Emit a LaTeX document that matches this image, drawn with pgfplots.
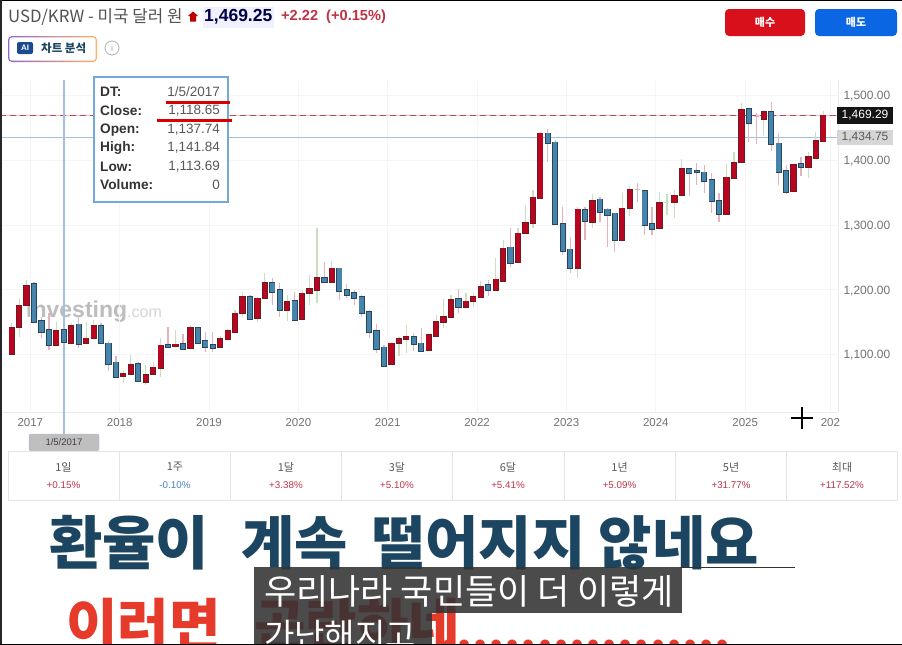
\documentclass[border=0pt]{standalone}
\usepackage{fontspec}
\usepackage{pgfplots}
\usepackage{pgfplotstable}
\pgfplotsset{compat=1.18}
\setmainfont{Liberation Sans}
\newfontfamily\kr{Noto Sans CJK KR}
\newcommand{\fs}[1]{\fontsize{#1}{#1}\selectfont}
\definecolor{upred}{HTML}{B9051F}
\definecolor{upedge}{HTML}{6E1A22}
\definecolor{dnblue}{HTML}{4684AE}
\definecolor{dnedge}{HTML}{26465C}
\definecolor{wickup}{HTML}{C9DFC0}
\definecolor{wickdn}{HTML}{E3B4BC}
\definecolor{navy}{HTML}{1B4560}
\definecolor{redhead}{HTML}{E63A2B}
\definecolor{pctred}{HTML}{C03345}
\definecolor{pctblue}{HTML}{4A80C8}
\definecolor{hair}{HTML}{A3C0E4}
\definecolor{tipedge}{HTML}{74A8D8}
\definecolor{dashbase}{HTML}{F4BCC4}
\definecolor{dashtop}{HTML}{B84A5C}
\definecolor{buyred}{HTML}{D8101C}
\definecolor{sellblue}{HTML}{0B66E4}
\definecolor{aiblue}{HTML}{1A4A90}
\pgfplotstableread{
x l bl bh h
0 1100 1100.8 1141.5 1148
1 1127.6 1142 1176 1186.8
2 1175 1176.5 1206.3 1215
6 1114 1114.7 1136.8 1150.7
8 1118 1118.3 1144.5 1148
10 1117 1118.3 1125 1150.7
11 1122.4 1125 1144.5 1153.3
15 1055.5 1066.8 1069.9 1076
16 1068 1069.9 1084.3 1099.3
18 1053 1058 1068.9 1083.8
19 1068 1069.4 1080 1089
20 1066 1079.2 1114.2 1125
22 1112 1113 1115.7 1138
24 1108.5 1109.5 1141.5 1145.6
28 1111 1112 1124 1128.6
29 1123.4 1124.5 1136.8 1140
30 1133.7 1135.3 1163.6 1168.7
31 1157.4 1163.6 1189.3 1197
33 1150.7 1155.9 1186.8 1189.3
34 1186.8 1186.8 1211 1225.4
37 1152 1168.7 1181 1192
39 1153 1154.3 1194.5 1199.6
40 1176.5 1194.5 1201 1222.8
41 1180 1199.6 1218.7 1295
43 1211.5 1212.5 1233.1 1245
51 1083.8 1084.8 1117.3 1119.8
52 1097.7 1117.3 1124 1127.6
53 1101.8 1124.5 1127.6 1145.6
56 1107 1107 1130 1131.7
57 1127.6 1129 1150.7 1161
58 1140.4 1150.7 1158.5 1185.2
59 1155.9 1157.4 1184.2 1191.9
61 1172.9 1172.9 1182.1 1194.5
62 1172.9 1182.6 1189.3 1194.5
63 1186.8 1188.3 1204.8 1214
65 1198.6 1199.6 1216 1248.5
66 1213.5 1214 1264 1276.9
68 1240.8 1242.3 1287.1 1294.9
69 1286 1287.1 1303.6 1330.9
70 1295 1302.6 1342.7 1354
71 1341 1342.2 1441.6 1444
76 1217.6 1233 1324.2 1328.3
78 1294.9 1305.2 1337.6 1347.9
82 1275.8 1276.8 1325.7 1348.9
83 1313.9 1326.3 1354 1360.8
87 1293.8 1294.9 1334.5 1351.5
89 1310.3 1335 1345.3 1354
90 1345.3 1346.3 1386.5 1401.9
96 1315.4 1317 1373.6 1393.7
97 1372 1373 1396.2 1413.2
98 1395.7 1396.8 1477.6 1487.9
101 1439 1463.2 1475 1477.6
105 1351.5 1352.5 1392.6 1393.7
107 1373 1389 1405.5 1413.2
108 1403 1404 1429.7 1444.1
109 1428.7 1429.7 1469.25 1476
}\upT
\pgfplotstableread{
x l bl bh h
3 1148 1149.7 1209 1212.5
4 1125 1135.3 1152.3 1158.5
5 1107 1114.7 1137.9 1163.6
7 1113.69 1118.65 1137.74 1141.84
9 1109.5 1116.2 1146.6 1157.4
12 1116 1117.3 1144.5 1148
13 1075 1085.3 1117.3 1119.8
14 1063 1064.8 1087.9 1097.7
17 1057.5 1058.6 1085.3 1089
21 1111 1111 1114.7 1142
23 1108 1108 1116.7 1131.7
25 1116 1117.3 1141.5 1143
26 1104 1112 1121.4 1135
27 1104 1110 1114.7 1135
32 1153 1154.3 1189.3 1192
35 1176.5 1197 1211 1217.6
36 1157.4 1168.7 1199.6 1210
38 1152 1153.3 1182.6 1197
42 1210 1212.5 1218.7 1243.4
44 1184.2 1198.6 1233.1 1233.1
45 1186.8 1191.9 1199.6 1209
46 1176.5 1186.8 1195.5 1199.6
47 1157.4 1163.6 1189.3 1191.9
48 1125 1135.3 1166.2 1168.7
49 1101.8 1108.5 1136.8 1147
50 1082.3 1082.8 1111 1114.7
54 1106 1116.2 1127.6 1132.7
55 1106 1106 1117.3 1140.4
60 1164.6 1172.9 1185.7 1200.7
64 1190.4 1199.6 1207.4 1215
67 1235.7 1240.8 1265.5 1294.9
72 1397.8 1426.1 1441.6 1448.3
73 1300 1301 1427.7 1431.3
74 1253.7 1259.3 1301.6 1327.3
75 1225.4 1233 1262.4 1282
77 1276.8 1306.2 1323.2 1328.3
79 1305.2 1320.1 1339.6 1342.7
80 1266.5 1315 1324.2 1325.7
81 1258.8 1276.8 1318 1319
85 1284.6 1300 1353 1354
86 1284.6 1294.3 1301.6 1328.3
91 1345.3 1380.8 1386.5 1388.5
92 1361.8 1381.3 1383.9 1395.2
93 1348.9 1368.4 1381.3 1392.6
94 1318 1337.6 1369.5 1379.8
95 1305 1317 1337.6 1348.9
99 1428.7 1458 1479.1 1480.2
102 1414.3 1424.6 1475 1489.4
103 1361.8 1382.3 1426.1 1441.6
104 1347.3 1351.5 1383.4 1392.6
106 1376.2 1389 1394.2 1405.5
}\dnT
\pgfplotstableread{
x l bl h
84 1336 1355 1364.4
100 1424.6 1468 1472.4
}\dojiDn
\pgfplotstableread{
x l bl h
88 1316 1335 1348
}\dojiUp
\newcommand{\wicks}[2]{\addplot[draw=none,mark=none,forget plot,
  error bars/.cd,y dir=both,y explicit,error mark=none,
  error bar style={line width=1.2pt,color=#2}]
  table[x=x,y=bl,y error plus expr={\thisrow{h}-\thisrow{bl}},y error minus expr={\thisrow{bl}-\thisrow{l}}]{#1};}
\newcommand{\bodies}[3]{\addplot[draw=none,mark=none,forget plot,
  error bars/.cd,y dir=both,y explicit,error mark=none,
  error bar style={line width=6.2pt,color=#2}]
  table[x=x,y=bl,y error plus expr={\thisrow{bh}-\thisrow{bl}+1.2},y error minus expr={1.2}]{#1};
  \addplot[draw=none,mark=none,forget plot,
  error bars/.cd,y dir=both,y explicit,error mark=none,
  error bar style={line width=4.4pt,color=#3}]
  table[x=x,y=bl,y error plus expr={\thisrow{bh}-\thisrow{bl}},y error minus expr={0}]{#1};}
\begin{document}
\begin{tikzpicture}
\path[use as bounding box,clip] (0pt,0pt) rectangle (902pt,-645pt);
\fill[white] (0pt,0pt) rectangle (902pt,-645pt);
\begin{scope}[x=1pt,y=-1pt]
\node[anchor=west,inner sep=0pt,text=black!26] at (26,312) {\fs{23}\bfseries Investing\textcolor{black!16}{\fs{16}\mdseries .com}};
\end{scope}
\begin{axis}[
  at={(0pt,-412pt)},anchor=south west,scale only axis,
  width=838pt,height=332pt,
  xmin=-1.571,xmax=110.97,ymin=1011.2,ymax=1523.9,
  axis x line*=bottom,axis y line*=right,
  axis line style={color=black!8,line width=1pt},
  major tick length=0pt,
  grid=major,major grid style={color=black!4,line width=0.8pt},
  xtick={2.5,14.5,26.5,38.5,50.5,62.5,74.5,86.5,98.5,109.95},
  xticklabels={2017,2018,2019,2020,2021,2022,2023,2024,2025,202},
  ytick={1100,1200,1300,1400,1500},
  xticklabel style={font=\fs{11.5},text=black!55,yshift=-3pt},
  yticklabel style={font=\fs{12},text=black!55,xshift=2pt,yshift=-1pt},
  /pgf/number format/.cd,fixed,fixed zerofill,precision=2,1000 sep={,},assume math mode=true,
]
\addplot[color=dashbase,line width=1.1pt,forget plot] coordinates {(-1.571,1469.29)(110.97,1469.29)};
\addplot[color=dashtop,line width=1pt,dash pattern=on 6pt off 4pt,forget plot] coordinates {(-1.571,1469.29)(110.97,1469.29)};
\addplot[color=hair,line width=1.3pt,forget plot] coordinates {(-1.571,1434.75)(110.97,1434.75)};
\addplot[color=hair,line width=1.4pt,forget plot] coordinates {(7,1011.2)(7,1523.9)};
\wicks{\dnT}{wickdn}
\wicks{\upT}{wickup}
\wicks{\dojiDn}{wickdn}
\wicks{\dojiUp}{wickup}
\addplot[only marks,mark=-,mark size=2.5pt,color=wickdn,forget plot] table[x=x,y=bl]{\dojiDn};
\addplot[only marks,mark=-,mark size=2.5pt,color=wickup,forget plot] table[x=x,y=bl]{\dojiUp};
\bodies{\dnT}{dnedge}{dnblue}
\bodies{\upT}{upedge}{upred}
\end{axis}
\begin{scope}[x=1pt,y=-1pt]
% header
\node[anchor=west,inner sep=0pt,text=black!68] at (8,17) {\kr\fs{16.8}USD/KRW - 미국 달러 원};
\fill[red!75!black] (193,11.5) -- (198,16) -- (196,16) -- (196,21.5) -- (190,21.5) -- (190,16) -- (188,16) -- cycle;
\fill[blue!6!white] (203,7) rectangle (274,28);
\node[anchor=west,inner sep=0pt,text=black!72!blue] at (204,17) {\fs{17.5}\bfseries 1,469.25};
\node[anchor=west,inner sep=0pt,text=pctred] at (281,17) {\fs{14.6}\bfseries +2.22 \ (+0.15\%)};
% AI button
\shade[left color=violet!55!blue!60!white,right color=orange!60!white,rounded corners=4pt] (8,36) rectangle (97,62);
\fill[white,rounded corners=3pt] (9.3,37.3) rectangle (95.7,60.7);
\fill[aiblue,rounded corners=2pt] (17,42) rectangle (33,54);
\node[inner sep=0pt,text=white] at (25,48) {\fs{8}\bfseries AI};
\node[anchor=west,inner sep=0pt,text=navy] at (41,48) {\kr\fs{11.5}\bfseries 차트 분석};
\draw[black!25,line width=1pt] (112,48) circle (7);
\node[inner sep=0pt,text=black!35] at (112,48) {\fs{9}i};
% buy / sell
\fill[buyred,rounded corners=4pt] (725,9) rectangle (805,36);
\node[inner sep=0pt,text=white] at (765,22.5) {\kr\fs{11}\bfseries 매수};
\fill[sellblue,rounded corners=4pt] (815,9) rectangle (897,36);
\node[inner sep=0pt,text=white] at (856,22.5) {\kr\fs{11}\bfseries 매도};
% price tags
\fill[black!92] (837,107) rectangle (893,124);
\node[inner sep=0pt,text=white] at (865,115.5) {\fs{12}1,469.29};
\fill[black!16] (837,130) rectangle (893,145);
\node[inner sep=0pt,text=black!65] at (865,137.5) {\fs{12}1,434.75};
% tooltip
\fill[white] (94,77) rectangle (228,202);
\draw[tipedge,line width=1.3pt] (94,77) rectangle (228,202);
\foreach \yy/\a/\b in {92/DT:/1\slash 5\slash 2017,111/Close:/{1,118.65},130/Open:/{1,137.74},148/High:/{1,141.84},167/Low:/{1,113.69},185/Volume:/0}{
  \node[anchor=west,inner sep=0pt,text=black!80] at (100,\yy) {\fs{13.7}\bfseries \a};
  \node[anchor=east,inner sep=0pt,text=black!65] at (220,\yy) {\fs{13.5}\b};
}
\fill[red!85!black] (166,101.3) rectangle (230,104.3);
\fill[red!85!black] (157,118.5) rectangle (232,121.5);
% crosshair date tag and cursor
\draw[hair,line width=1.4pt] (64,412) -- (64,434);
\fill[black!25,draw=hair,rounded corners=2pt] (29,434) rectangle (99,451);
\node[inner sep=0pt,text=black!75] at (64,442.5) {\fs{9.5}1/5/2017};
\draw[black,line width=1.6pt] (791,418) -- (813,418) (802,407) -- (802,429);
% period table
\draw[black!10,line width=1pt] (8,451.5) rectangle (897,500);
\foreach \xb in {119,230.7,341.8,452.8,564,675,786.5}{\draw[black!10,line width=1pt] (\xb,451.5) -- (\xb,500);}
\foreach \xc/\top/\val/\col in {63.5/1일/+0.15\%/pctred,175/1주/-0.10\%/pctblue,286/1달/+3.38\%/pctred,397/3달/+5.10\%/pctred,508/6달/+5.41\%/pctred,619.5/1년/+5.09\%/pctred,731/5년/+31.77\%/pctred,842/최대/+117.52\%/pctred}{
  \node[inner sep=0pt,text=black!65] at (\xc,467) {\kr\fs{11}\top};
  \node[inner sep=0pt,text=\col] at (\xc,485) {\fs{9.8}\val};
}
% headline
\node[anchor=west,inner sep=0pt,text=navy] at (49,543) {\kr\fs{58}\bfseries 환율이\hspace{0.55em}계속 \hspace{11pt}떨어지지 않네요};
\node[anchor=west,inner sep=0pt,text=redhead] at (66,625) {\kr\fs{56}\bfseries 이러면\hspace{0.6em}곤란하네};
\node[anchor=base west,inner sep=0pt,text=redhead] at (440,649) {\kr\fs{46}\bfseries ..................};
\draw[black!80,line width=1pt] (680,567.5) -- (795,567.5);
% subtitle boxes
\fill[black!80,opacity=0.88] (254,567) rectangle (682,612.5);
\fill[black!80,opacity=0.88] (254,612.5) rectangle (432,645);
\node[anchor=west,inner sep=0pt,text=white] at (264,591) {\kr\fs{35}우리나라 국민들이 더 이렇게};
\node[anchor=west,inner sep=0pt,text=white] at (264,635) {\kr\fs{33}가난해지고};
% frame of the screenshot
\fill[black] (0,0) rectangle (902,1);
\fill[black!85] (0,0) rectangle (1.5,645);
\fill[black] (0,644) rectangle (902,645);
\end{scope}
\end{tikzpicture}
\end{document}
